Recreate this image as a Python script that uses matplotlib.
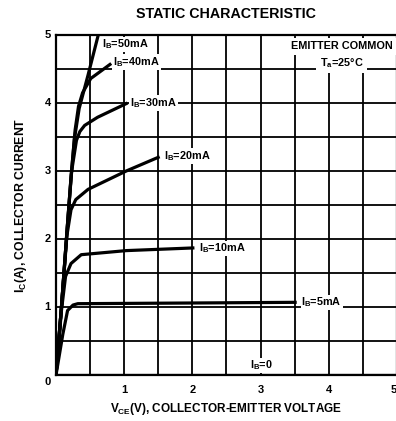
import numpy as np
import matplotlib.pyplot as plt

plt.rcParams['font.family'] = ['Liberation Sans', 'DejaVu Sans']
plt.rcParams['font.weight'] = 'bold'
plt.rcParams['mathtext.default'] = 'regular'

# curves: (VCE, IC) pairs for each base current
curve_labels = ['$I_B$=50mA', '$I_B$=40mA', '$I_B$=30mA', '$I_B$=20mA',
                '$I_B$=10mA', '$I_B$=5mA', '$I_B$=0']
vce_50 = [0, 0.08, 0.16, 0.22, 0.27, 0.34, 0.47, 0.62]
ic_50 = [0, 1.0, 2.1, 2.9, 3.47, 3.92, 4.41, 5.0]
vce_40 = [0, 0.08, 0.16, 0.22, 0.28, 0.33, 0.39, 0.51, 0.81]
ic_40 = [0, 1.0, 2.1, 2.9, 3.6, 3.95, 4.15, 4.36, 4.58]
vce_30 = [0, 0.08, 0.16, 0.23, 0.3, 0.35, 0.42, 0.61, 1.05]
ic_30 = [0, 1.0, 2.1, 3.0, 3.45, 3.58, 3.67, 3.79, 4.0]
vce_20 = [0, 0.08, 0.16, 0.22, 0.29, 0.47, 1.03, 1.52]
ic_20 = [0, 1.0, 2.05, 2.43, 2.58, 2.73, 3.0, 3.21]
vce_10 = [0, 0.08, 0.14, 0.22, 0.37, 1.03, 2.03]
ic_10 = [0, 0.95, 1.45, 1.64, 1.77, 1.83, 1.87]
vce_5 = [0, 0.1, 0.17, 0.25, 0.32, 2.0, 3.53]
ic_5 = [0, 0.6, 0.95, 1.03, 1.05, 1.06, 1.07]
vce_0 = [0, 5.0]
ic_0 = [0, 0]

fig = plt.figure(figsize=(3.96, 4.21), dpi=100)
ax = fig.add_axes([0.1414, 0.109, 0.861, 0.808])

for curve_x, curve_y in [(vce_50, ic_50), (vce_40, ic_40), (vce_30, ic_30),
                         (vce_20, ic_20), (vce_10, ic_10), (vce_5, ic_5),
                         (vce_0, ic_0)]:
    ax.plot(curve_x, curve_y, color='black', lw=2.3, solid_capstyle='butt',
            solid_joinstyle='round', zorder=3)

ax.set_xlim(0, 5)
ax.set_ylim(0, 5)
ax.set_xticks(np.arange(0, 5.01, 0.5))
ax.set_yticks(np.arange(0, 5.01, 0.5))
ax.grid(True, color='black', lw=1.3)
ax.tick_params(length=0, labelbottom=False, labelleft=False)
for s in ax.spines.values():
    s.set_linewidth(1.6)

for v in range(1, 6):
    xpos = v if v < 5 else 4.96
    ax.text(xpos, -0.22, str(v), ha='center', va='center', fontsize=8, fontweight='bold')
    ax.text(-0.12, v, str(v), ha='center', va='center', fontsize=8, fontweight='bold')
ax.text(-0.12, -0.1, '0', ha='center', va='center', fontsize=8, fontweight='bold')

# curve labels
box = dict(facecolor='white', edgecolor='none', pad=0.6)
label_pos = [(0.67, 4.86), (0.84, 4.6), (1.09, 4.0), (1.59, 3.22),
             (2.09, 1.86), (3.6, 1.07), (2.84, 0.14)]
for txt, (lx, ly) in zip(curve_labels, label_pos):
    ax.text(lx, ly, txt, ha='left', va='center', fontsize=7.8, bbox=box, zorder=4)

wbox = dict(facecolor='white', edgecolor='none', pad=2.5)
ax.text(0.838, 0.967, 'EMITTER COMMON', transform=ax.transAxes,
        ha='center', va='center', fontsize=7.8, bbox=wbox, zorder=4)
ax.text(0.838, 0.918, '$T_a$=25°C', transform=ax.transAxes,
        ha='center', va='center', fontsize=7.8, bbox=wbox, zorder=4)

fig.text(0.57, 0.967, 'STATIC CHARACTERISTIC', ha='center', va='center',
         fontsize=10.3, fontweight='bold')
fig.text(0.57, 0.028, '$V_{CE}$(V), COLLECTOR-EMITTER VOLTAGE', ha='center',
         va='center', fontsize=8.5, fontweight='bold')
fig.text(0.052, 0.513, '$I_C$(A), COLLECTOR CURRENT', ha='center', va='center',
         rotation=90, fontsize=8.8, fontweight='bold')

fig.savefig('out.png', dpi=100)
